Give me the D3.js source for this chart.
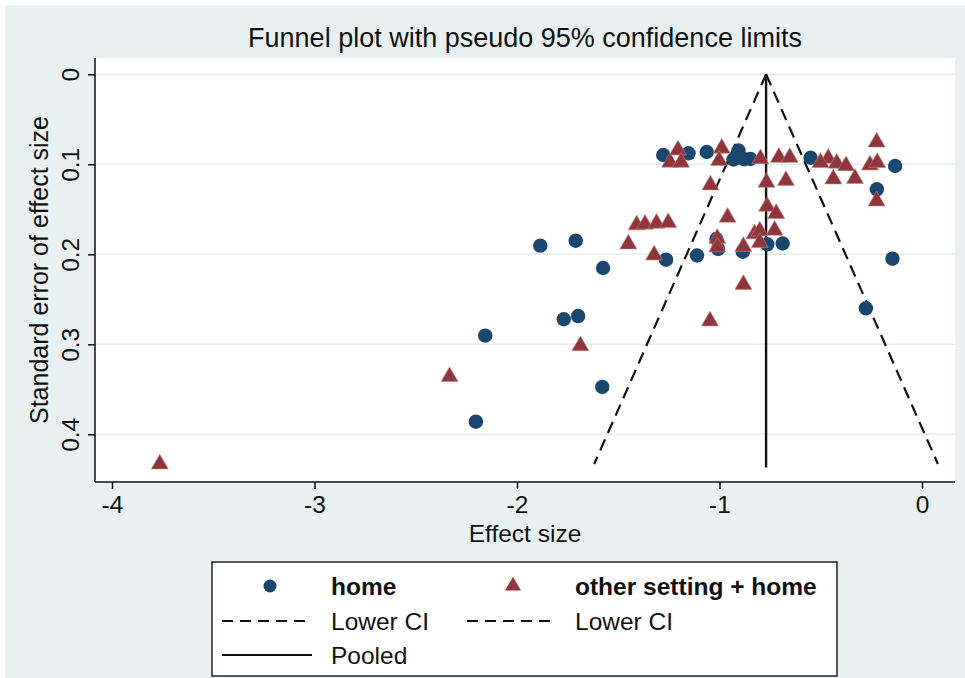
<!DOCTYPE html>
<html>
  <head>
    <meta http-equiv="Content-Type" content="text/html;charset=utf-8"/>
    <script src="https://cdn.jsdelivr.net/npm/d3@7"></script>
    <style>
      body { margin: 0; background: #fff; }
      text { font-family: "Liberation Sans", Arial, sans-serif; fill: #111; }
    </style>
  </head>
  <body>
    <script type="text/javascript">

// effect size / standard error for each study
var homeEffect = [-1.278, -1.153, -1.063, -0.906, -0.931, -0.879, -0.847, -0.550, -0.133, -0.223,
  -1.015, -1.007, -0.885, -0.764, -0.688, -1.111, -1.264, -0.146, -0.277, -1.885,
  -1.710, -1.575, -2.157, -1.769, -1.698, -1.579, -2.203];
var homeSE = [0.0897, 0.0878, 0.0863, 0.0847, 0.0947, 0.0944, 0.0941, 0.0927, 0.1019, 0.1278,
  0.1830, 0.1941, 0.1971, 0.1889, 0.1880, 0.2013, 0.2060, 0.2049, 0.2600, 0.1904,
  0.1849, 0.2152, 0.2904, 0.2722, 0.2686, 0.3474, 0.3860];

var otherEffect = [-1.205, -1.244, -1.190, -0.989, -1.002, -0.798, -0.707, -0.653, -0.463, -0.501,
  -0.421, -0.375, -0.257, -0.221, -0.224, -0.768, -0.672, -0.438, -0.331, -1.045,
  -0.224, -0.960, -0.765, -0.720, -0.728, -0.827, -0.801, -0.801, -0.882, -1.011,
  -1.011, -0.882, -1.409, -1.368, -1.311, -1.253, -1.450, -1.323, -1.047, -1.687,
  -2.333, -3.764];
var otherSE = [0.0841, 0.0978, 0.0978, 0.0822, 0.0958, 0.0938, 0.0924, 0.0924, 0.0933, 0.0980,
  0.0989, 0.1017, 0.1008, 0.0980, 0.0754, 0.1200, 0.1180, 0.1163, 0.1158, 0.1230,
  0.1408, 0.1589, 0.1467, 0.1547, 0.1734, 0.1774, 0.1741, 0.1869, 0.1913, 0.1824,
  0.1919, 0.2336, 0.1674, 0.1666, 0.1656, 0.1649, 0.1886, 0.2008, 0.2741, 0.3016,
  0.3360, 0.4330];

var pooled = -0.770;
var maxSE = 0.433;
var xTicks = [-4, -3, -2, -1, 0];
var yTicks = [0, 0.1, 0.2, 0.3, 0.4];

var W = 965, H = 678;
var box = {l: 95, r: 955, t: 58, b: 482};
var navy = "#1a476f", maroon = "#90353b";
var fs = 24.5;

var svg = d3.select("body").append("svg")
  .attr("width", W)
  .attr("height", H);

svg.append("rect").attr("x", 5).attr("y", 5).attr("width", W - 5).attr("height", H - 5)
  .attr("fill", "#e8f0f2");
svg.append("rect").attr("x", box.l).attr("y", box.t)
  .attr("width", box.r - box.l).attr("height", box.b - box.t)
  .attr("fill", "#fff");

var x = d3.scaleLinear().domain([-4, 0]).range([112, 922]);
var y = d3.scaleLinear().domain([0, 0.4]).range([74.3, 434.3]);

// grid
svg.selectAll(".grid").data(yTicks).enter().append("line")
  .attr("x1", box.l).attr("x2", box.r)
  .attr("y1", function(d) { return y(d); })
  .attr("y2", function(d) { return y(d); })
  .attr("stroke", "#e3edf0").attr("stroke-width", 1.6);

// axes
var xAxis = svg.append("g").attr("transform", "translate(0," + box.b + ")")
  .call(d3.axisBottom(x).tickValues(xTicks).tickSize(7).tickSizeOuter(0).tickFormat(d3.format("d")));
xAxis.select(".domain").attr("d", "M" + box.l + ",0H" + box.r).attr("stroke", "#111").attr("stroke-width", 1.5);
xAxis.selectAll(".tick line").attr("stroke", "#111").attr("stroke-width", 1.5);
xAxis.selectAll(".tick text").attr("font-size", fs).attr("dy", 0).attr("y", 31)
  .style("font-family", "Liberation Sans, Arial, sans-serif").attr("fill", "#111")
  .text(function(d) { return d < 0 ? "-" + Math.abs(d) : d; });

var yAxis = svg.append("g").attr("transform", "translate(" + box.l + ",0)")
  .call(d3.axisLeft(y).tickValues(yTicks).tickSize(7).tickSizeOuter(0)
    .tickFormat(function(d) { return d === 0 ? "0" : d3.format(".1f")(d); }));
yAxis.select(".domain").attr("d", "M0," + box.t + "V" + box.b).attr("stroke", "#111").attr("stroke-width", 1.5);
yAxis.selectAll(".tick line").attr("stroke", "#111").attr("stroke-width", 1.5);
yAxis.selectAll(".tick text")
  .attr("font-size", fs).attr("x", null).attr("dy", null)
  .attr("text-anchor", "middle")
  .attr("transform", "translate(-16,0) rotate(-90)")
  .style("font-family", "Liberation Sans, Arial, sans-serif").attr("fill", "#111");

// funnel
var ciLines = [
  [[pooled, 0], [pooled - 1.96 * maxSE, maxSE]],
  [[pooled, 0], [pooled + 1.96 * maxSE, maxSE]]
];
svg.selectAll(".ci").data(ciLines).enter().append("line")
  .attr("x1", function(d) { return x(d[0][0]); })
  .attr("y1", function(d) { return y(d[0][1]); })
  .attr("x2", function(d) { return x(d[1][0]); })
  .attr("y2", function(d) { return y(d[1][1]); })
  .attr("stroke", "#111").attr("stroke-width", 2.2).attr("stroke-dasharray", "12,7");
svg.append("line")
  .attr("x1", x(pooled)).attr("x2", x(pooled))
  .attr("y1", y(0)).attr("y2", y(maxSE + 0.004))
  .attr("stroke", "#111").attr("stroke-width", 2.4);

// markers
var tri = d3.symbol().type(d3.symbolTriangle).size(125);
svg.selectAll(".home").data(d3.range(homeEffect.length)).enter().append("circle")
  .attr("cx", function(i) { return x(homeEffect[i]); })
  .attr("cy", function(i) { return y(homeSE[i]); })
  .attr("r", 7.2)
  .attr("fill", navy);
svg.selectAll(".other").data(d3.range(otherEffect.length)).enter().append("path")
  .attr("d", tri)
  .attr("transform", function(i) { return "translate(" + x(otherEffect[i]) + "," + y(otherSE[i]) + ")"; })
  .attr("fill", maroon).attr("stroke", "#b8868a").attr("stroke-width", 0.6);

// titles
svg.append("text").attr("x", (box.l + box.r) / 2).attr("y", 47)
  .attr("text-anchor", "middle").attr("font-size", 27)
  .text("Funnel plot with pseudo 95% confidence limits");
svg.append("text").attr("x", (box.l + box.r) / 2).attr("y", 542)
  .attr("text-anchor", "middle").attr("font-size", fs)
  .text("Effect size");
svg.append("text")
  .attr("transform", "translate(48," + ((box.t + box.b) / 2) + ") rotate(-90)")
  .attr("text-anchor", "middle").attr("font-size", 25)
  .text("Standard error of effect size");

// legend
var lg = svg.append("g");
lg.append("rect").attr("x", 212).attr("y", 562).attr("width", 625).attr("height", 114)
  .attr("fill", "#fff").attr("stroke", "#222").attr("stroke-width", 1.5);
lg.append("circle").attr("cx", 270).attr("cy", 586).attr("r", 6.5).attr("fill", navy);
lg.append("path").attr("d", d3.symbol().type(d3.symbolTriangle).size(110)).attr("transform", "translate(513,586)").attr("fill", maroon);
lg.append("text").attr("x", 331).attr("y", 595).attr("font-size", fs).attr("font-weight", "bold").text("home");
lg.append("text").attr("x", 575).attr("y", 595).attr("font-size", fs).attr("font-weight", "bold").text("other setting + home");
var legLines = [
  {x1: 222, x2: 311, y: 621, dash: "11,7", label: "Lower CI", lx: 331},
  {x1: 467, x2: 557, y: 621, dash: "11,7", label: "Lower CI", lx: 575},
  {x1: 222, x2: 312, y: 655, dash: null, label: "Pooled", lx: 331}
];
lg.selectAll(".ll").data(legLines).enter().append("line")
  .attr("x1", function(d) { return d.x1; }).attr("x2", function(d) { return d.x2; })
  .attr("y1", function(d) { return d.y; }).attr("y2", function(d) { return d.y; })
  .attr("stroke", "#111").attr("stroke-width", 2)
  .attr("stroke-dasharray", function(d) { return d.dash; });
lg.selectAll(".lt").data(legLines).enter().append("text")
  .attr("x", function(d) { return d.lx; }).attr("y", function(d) { return d.y + 9; })
  .attr("font-size", fs)
  .text(function(d) { return d.label; });
    </script>
  </body>
</html>
